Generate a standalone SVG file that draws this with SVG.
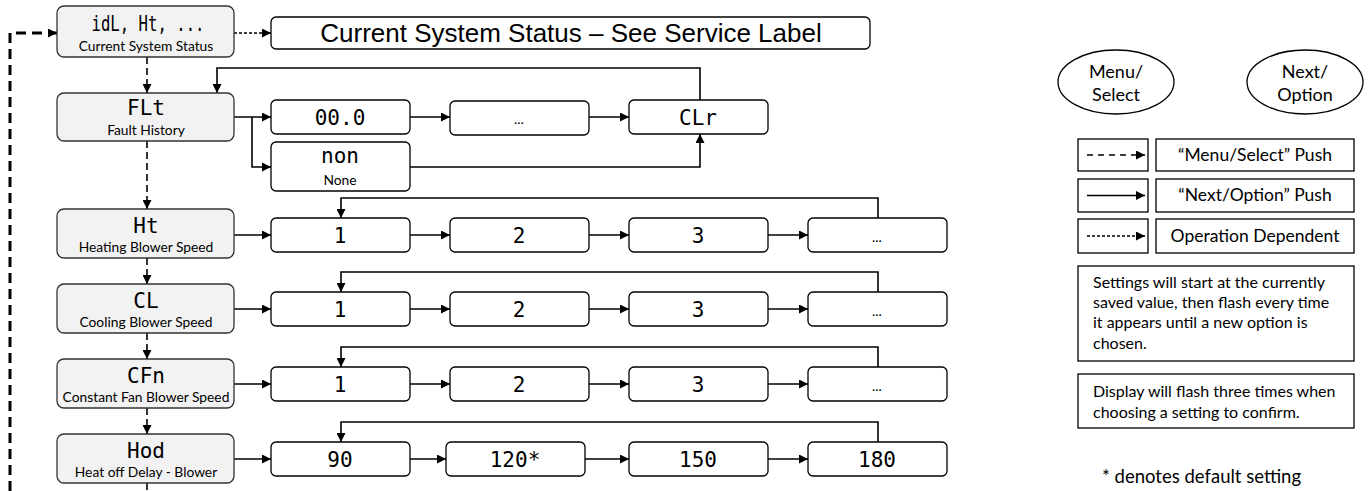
<svg xmlns="http://www.w3.org/2000/svg" width="1368" height="491" viewBox="0 0 1368 491">
<defs>
<marker id="ah" viewBox="0 0 10 10" refX="10" refY="5" markerWidth="10" markerHeight="9" markerUnits="userSpaceOnUse" orient="auto"><path d="M0,0 L10,5 L0,10 z" fill="#000"/></marker>
</defs>
<style>
.menu{fill:#f2f2f2;stroke:#333;stroke-width:1.3}
.opt{fill:#fff;stroke:#000;stroke-width:1.3}
.seg{font-family:"DejaVu Sans Mono",monospace;font-size:21px;fill:#000;text-anchor:middle}
.sub{font-family:Lato,"Open Sans",sans-serif;font-size:13.8px;fill:#000;text-anchor:middle}
.big-t{font-family:"Liberation Sans",Arial,sans-serif;font-size:26px;fill:#000;text-anchor:middle}
.leg{font-family:Lato,"Open Sans",sans-serif;font-size:17.5px;fill:#000;text-anchor:middle}
.ell{font-family:Lato,"Open Sans",sans-serif;font-size:18px;fill:#000;text-anchor:middle}
.note{font-family:Lato,"Open Sans",sans-serif;font-size:16px;fill:#000}
.ln{fill:none;stroke:#000;stroke-width:1.6}
.arr{marker-end:url(#ah)}
.dash{stroke-dasharray:7 4}
.dot{stroke-dasharray:3 2}
.big{stroke-width:3;stroke-dasharray:10 6}
.lbox{fill:#fff;stroke:#000;stroke-width:1.3}
</style>

<g id="connectors">
<path class="ln big arr" d="M10,491 V33 H57"/>
<path class="ln dot arr" d="M234,33 H271"/>
<path class="ln dash arr" d="M147,57 V93"/>
<path class="ln dash arr" d="M147,141 V209"/>
<path class="ln dash arr" d="M147,258 V284"/>
<path class="ln dash arr" d="M147,333 V359"/>
<path class="ln dash arr" d="M147,408 V434"/>
<path class="ln dash" d="M147,483 V491"/>
<path class="ln arr" d="M234,117 H271"/>
<path class="ln arr" d="M252,117 V167 H271"/>
<path class="ln arr" d="M410,117 H450"/>
<path class="ln arr" d="M589,117 H629"/>
<path class="ln arr" d="M410,167 H700 V134"/>
<path class="ln arr" d="M700,100 V68 H217 V93"/>
<path class="ln arr" d="M234,235 H271"/>
<path class="ln arr" d="M410,235 H450"/>
<path class="ln arr" d="M589,235 H629"/>
<path class="ln arr" d="M768,235 H808"/>
<path class="ln arr" d="M878,218 V198 H341 V218"/>
<path class="ln arr" d="M234,309 H271"/>
<path class="ln arr" d="M410,309 H450"/>
<path class="ln arr" d="M589,309 H629"/>
<path class="ln arr" d="M768,309 H808"/>
<path class="ln arr" d="M878,292 V272 H341 V292"/>
<path class="ln arr" d="M234,384 H271"/>
<path class="ln arr" d="M410,384 H450"/>
<path class="ln arr" d="M589,384 H629"/>
<path class="ln arr" d="M768,384 H808"/>
<path class="ln arr" d="M878,367 V347 H341 V367"/>
<path class="ln arr" d="M234,459 H271"/>
<path class="ln arr" d="M410,459 H446"/>
<path class="ln arr" d="M585,459 H629"/>
<path class="ln arr" d="M768,459 H808"/>
<path class="ln arr" d="M878,442 V422 H341 V442"/>
</g>

<g id="n-status">
<rect class="menu" x="57" y="6" width="177" height="51" rx="7"/>
<text class="seg" x="148" y="31" textLength="113" lengthAdjust="spacingAndGlyphs">idL, Ht, ...</text>
<text class="sub" x="146" y="51">Current System Status</text>
</g>
<g id="n-status-label">
<rect class="opt" x="271" y="17" width="599" height="32" rx="5"/>
<text class="big-t" x="571" y="42">Current System Status – See Service Label</text>
</g>

<g id="n-flt">
<rect class="menu" x="57" y="93" width="177" height="48" rx="7"/>
<text class="seg" x="146" y="115">FLt</text>
<text class="sub" x="146" y="135">Fault History</text>
</g>
<g id="n-flt-000"><rect class="opt" x="271" y="100" width="139" height="34" rx="5"/><text class="seg" x="340" y="125">00.0</text></g>
<g id="n-flt-more"><rect class="opt" x="450" y="101" width="139" height="34" rx="5"/><text class="sub" x="519" y="124">...</text></g>
<g id="n-flt-clr"><rect class="opt" x="629" y="100" width="139" height="34" rx="5"/><text class="seg" x="698" y="125">CLr</text></g>
<g id="n-flt-non"><rect class="opt" x="271" y="142" width="139" height="49" rx="5"/><text class="seg" x="340" y="163">non</text><text class="sub" x="340" y="185">None</text></g>

<g id="n-ht">
<rect class="menu" x="57" y="209" width="177" height="49" rx="7"/>
<text class="seg" x="146" y="233">Ht</text>
<text class="sub" x="146" y="252">Heating Blower Speed</text>
</g>
<g id="n-ht-1"><rect class="opt" x="271" y="218" width="139" height="34" rx="5"/><text class="seg" x="340" y="243">1</text></g>
<g id="n-ht-2"><rect class="opt" x="450" y="218" width="139" height="34" rx="5"/><text class="seg" x="519" y="243">2</text></g>
<g id="n-ht-3"><rect class="opt" x="629" y="218" width="139" height="34" rx="5"/><text class="seg" x="698" y="243">3</text></g>
<g id="n-ht-more"><rect class="opt" x="808" y="218" width="139" height="34" rx="5"/><text class="sub" x="877" y="242">...</text></g>

<g id="n-cl">
<rect class="menu" x="57" y="284" width="177" height="49" rx="7"/>
<text class="seg" x="146" y="308">CL</text>
<text class="sub" x="146" y="327">Cooling Blower Speed</text>
</g>
<g id="n-cl-1"><rect class="opt" x="271" y="292" width="139" height="34" rx="5"/><text class="seg" x="340" y="317">1</text></g>
<g id="n-cl-2"><rect class="opt" x="450" y="292" width="139" height="34" rx="5"/><text class="seg" x="519" y="317">2</text></g>
<g id="n-cl-3"><rect class="opt" x="629" y="292" width="139" height="34" rx="5"/><text class="seg" x="698" y="317">3</text></g>
<g id="n-cl-more"><rect class="opt" x="808" y="292" width="139" height="34" rx="5"/><text class="sub" x="877" y="316">...</text></g>

<g id="n-cfn">
<rect class="menu" x="57" y="359" width="177" height="49" rx="7"/>
<text class="seg" x="146" y="383">CFn</text>
<text class="sub" x="146" y="402">Constant Fan Blower Speed</text>
</g>
<g id="n-cfn-1"><rect class="opt" x="271" y="367" width="139" height="34" rx="5"/><text class="seg" x="340" y="392">1</text></g>
<g id="n-cfn-2"><rect class="opt" x="450" y="367" width="139" height="34" rx="5"/><text class="seg" x="519" y="392">2</text></g>
<g id="n-cfn-3"><rect class="opt" x="629" y="367" width="139" height="34" rx="5"/><text class="seg" x="698" y="392">3</text></g>
<g id="n-cfn-more"><rect class="opt" x="808" y="367" width="139" height="34" rx="5"/><text class="sub" x="877" y="391">...</text></g>

<g id="n-hod">
<rect class="menu" x="57" y="434" width="177" height="49" rx="7"/>
<text class="seg" x="146" y="458">Hod</text>
<text class="sub" x="146" y="477">Heat off Delay - Blower</text>
</g>
<g id="n-hod-90"><rect class="opt" x="271" y="442" width="139" height="34" rx="5"/><text class="seg" x="340" y="467">90</text></g>
<g id="n-hod-120"><rect class="opt" x="446" y="442" width="139" height="34" rx="5"/><text class="seg" x="515" y="467">120*</text></g>
<g id="n-hod-150"><rect class="opt" x="629" y="442" width="139" height="34" rx="5"/><text class="seg" x="698" y="467">150</text></g>
<g id="n-hod-180"><rect class="opt" x="808" y="442" width="139" height="34" rx="5"/><text class="seg" x="877" y="467">180</text></g>

<g id="legend">
<ellipse class="lbox" cx="1116" cy="82" rx="58" ry="32"/>
<text class="ell" x="1116" y="78">Menu/</text>
<text class="ell" x="1116" y="101">Select</text>
<ellipse class="lbox" cx="1305" cy="82" rx="58" ry="32"/>
<text class="ell" x="1305" y="78">Next/</text>
<text class="ell" x="1305" y="101">Option</text>

<rect class="lbox" x="1078" y="139" width="70" height="32"/>
<rect class="lbox" x="1156" y="139" width="198" height="32"/>
<path class="ln arr" style="stroke-dasharray:6 5" d="M1087,155 H1145"/>
<text class="leg" x="1255" y="161">“Menu/Select” Push</text>

<rect class="lbox" x="1078" y="179" width="70" height="33"/>
<rect class="lbox" x="1156" y="179" width="198" height="33"/>
<path class="ln arr" d="M1087,195.5 H1145"/>
<text class="leg" x="1255" y="201">“Next/Option” Push</text>

<rect class="lbox" x="1078" y="219" width="70" height="34"/>
<rect class="lbox" x="1156" y="219" width="198" height="34"/>
<path class="ln arr dot" d="M1087,236 H1145"/>
<text class="leg" x="1255" y="242">Operation Dependent</text>

<rect class="lbox" x="1078" y="266" width="276" height="95"/>
<text class="note" x="1093" y="288">Settings will start at the currently</text>
<text class="note" x="1093" y="308">saved value, then flash every time</text>
<text class="note" x="1093" y="328">it appears until a new option is</text>
<text class="note" x="1093" y="349">chosen.</text>

<rect class="lbox" x="1078" y="374" width="276" height="54"/>
<text class="note" x="1093" y="397">Display will flash three times when</text>
<text class="note" x="1093" y="418">choosing a setting to confirm.</text>

<text class="note" x="1102" y="483" style="font-size:18.5px">* denotes default setting</text>
</g>
</svg>
